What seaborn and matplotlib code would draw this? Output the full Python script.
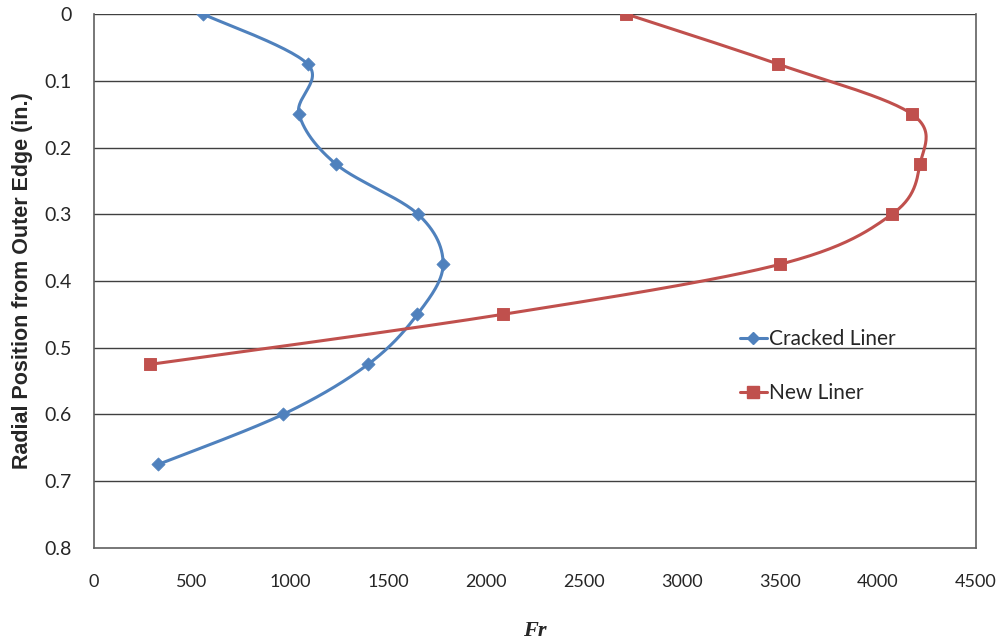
import numpy as np
import pandas as pd
import matplotlib
matplotlib.use("Agg")
import matplotlib.pyplot as plt
import seaborn as sns
from matplotlib.lines import Line2D

# values
radial_pos = [0, 0.075, 0.15, 0.225, 0.3, 0.375, 0.45, 0.525, 0.6, 0.675]
cracked_fr = [556, 1090, 1046, 1235, 1653, 1781, 1650, 1398, 964, 327]
new_pos = [0, 0.075, 0.15, 0.225, 0.3, 0.375, 0.45, 0.525]
new_fr = [2716, 3490, 4173, 4214, 4071, 3500, 2087, 286]

x_ticks = [0, 500, 1000, 1500, 2000, 2500, 3000, 3500, 4000, 4500]
y_ticks = [0, 0.1, 0.2, 0.3, 0.4, 0.5, 0.6, 0.7, 0.8]

blue = "#4F81BD"
red = "#C0504D"


def smooth(xs, ys, n=30):
    # Excel-style smoothed line (Catmull-Rom through the points)
    p = np.column_stack([xs, ys]).astype(float)
    p = np.vstack([p[0], p, p[-1]])
    out = []
    for i in range(1, len(p) - 2):
        p0, p1, p2, p3 = p[i - 1], p[i], p[i + 1], p[i + 2]
        c1 = p1 + (p2 - p0) / 6
        c2 = p2 - (p3 - p1) / 6
        t = np.linspace(0, 1, n)[:, None]
        seg = ((1 - t) ** 3) * p1 + 3 * ((1 - t) ** 2) * t * c1 + 3 * (1 - t) * t ** 2 * c2 + t ** 3 * p2
        out.append(seg if i == 1 else seg[1:])
    out = np.vstack(out)
    return pd.DataFrame({"Fr": out[:, 0], "pos": out[:, 1]})


sns.set_style("white")
plt.rcParams["font.family"] = ["Lato", "DejaVu Sans"]

fig = plt.figure(figsize=(9.98, 6.4), dpi=100)
ax = fig.add_axes([0.0942, 0.144, 0.8838, 0.834])

ax.set_xlim(0, 4500)
ax.set_ylim(0.8, 0)

for yv in y_ticks[:-1]:
    ax.axhline(yv, color="#404040", lw=1.0, zorder=1)

cr = smooth(cracked_fr, radial_pos)
nw = smooth(new_fr, new_pos)
sns.lineplot(data=cr, x="Fr", y="pos", sort=False, estimator=None, color=blue, lw=2.2, ax=ax, zorder=3)
sns.lineplot(data=nw, x="Fr", y="pos", sort=False, estimator=None, color=red, lw=2.2, ax=ax, zorder=3)
sns.scatterplot(x=cracked_fr, y=radial_pos, marker="D", s=45, color=blue, edgecolor=blue, ax=ax, zorder=4)
sns.scatterplot(x=new_fr, y=new_pos, marker="s", s=70, color=red, edgecolor=red, ax=ax, zorder=4)

# legend
handles = [Line2D([], [], color=blue, lw=2.2, marker="D", ms=6),
           Line2D([], [], color=red, lw=2.2, marker="s", ms=8)]
ax.legend(handles, ["Cracked Liner", "New Liner"], frameon=False, fontsize=15,
          loc="upper left", bbox_to_anchor=(0.711, 0.445), labelspacing=1.65,
          handlelength=1.3, handletextpad=0.1)

ax.set_xticks(x_ticks)
ax.set_yticks(y_ticks)
ax.set_yticklabels(["0", "0.1", "0.2", "0.3", "0.4", "0.5", "0.6", "0.7", "0.8"])
ax.tick_params(axis="x", direction="out", length=5, width=1, color="#404040", labelsize=13, pad=14)
ax.tick_params(axis="y", length=0, labelsize=14, pad=16)

for s in ["left", "right", "bottom"]:
    ax.spines[s].set_color("#606060")
    ax.spines[s].set_linewidth(1.2)
ax.spines["top"].set_visible(False)

ax.set_xlabel("Fr", fontsize=16, fontweight="bold", style="italic",
              family="Liberation Serif", labelpad=22)
ax.set_ylabel("Radial Position from Outer Edge (in.)", fontsize=15.5, fontweight="bold",
              family="Liberation Sans", labelpad=8)

fig.savefig("out.png", dpi=100)
